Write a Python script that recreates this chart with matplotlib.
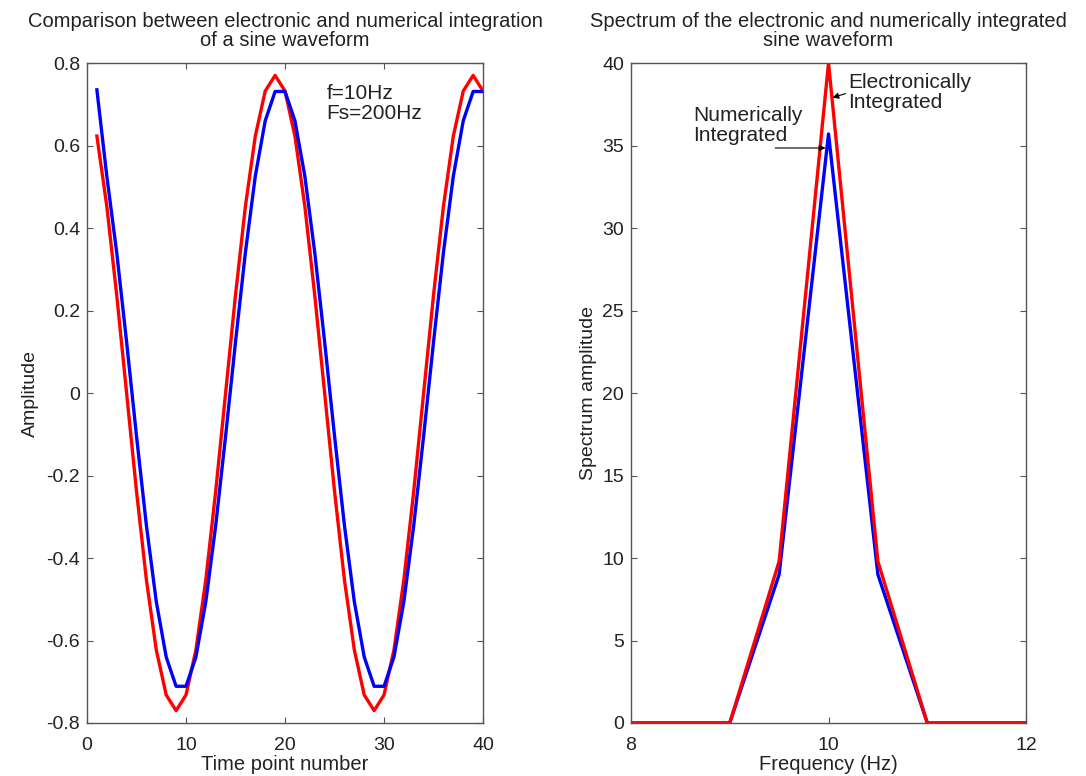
import matplotlib.pyplot as plt
import numpy as np

plt.rcParams['font.family'] = ['Liberation Sans', 'DejaVu Sans']
plt.rcParams['axes.unicode_minus'] = False

# Time domain (20 samples per period, f=10Hz, Fs=200Hz)
n = np.arange(1, 41)
electronic = [0.623, 0.453, 0.238, 0.0, -0.238, -0.453, -0.623, -0.732, -0.77, -0.732,
              -0.623, -0.453, -0.238, 0.0, 0.238, 0.453, 0.623, 0.732, 0.77, 0.732,
              0.623, 0.453, 0.238, 0.0, -0.238, -0.453, -0.623, -0.732, -0.77, -0.732,
              -0.623, -0.453, -0.238, 0.0, 0.238, 0.453, 0.623, 0.732, 0.77, 0.732]
numerical = [0.735, 0.526, 0.341, 0.124, -0.104, -0.321, -0.506, -0.640, -0.711, -0.711,
             -0.640, -0.506, -0.321, -0.104, 0.124, 0.341, 0.526, 0.660, 0.731, 0.731,
             0.660, 0.526, 0.341, 0.124, -0.104, -0.321, -0.506, -0.640, -0.711, -0.711,
             -0.640, -0.506, -0.321, -0.104, 0.124, 0.341, 0.526, 0.660, 0.731, 0.731]
amp_ticks = [-0.8, -0.6, -0.4, -0.2, 0, 0.2, 0.4, 0.6, 0.8]
amp_labels = ['-0.8', '-0.6', '-0.4', '-0.2', '0', '0.2', '0.4', '0.6', '0.8']

# Spectrum
freq = [8, 8.5, 9, 9.5, 10, 10.5, 11, 11.5, 12]
spec_electronic = [0, 0, 0, 9.8, 40, 9.8, 0, 0, 0]
spec_numerical = [0, 0, 0, 9.0, 35.7, 9.0, 0, 0, 0]

fig = plt.figure(figsize=(10.86, 7.76), dpi=100)
ax1 = fig.add_axes([0.0801, 0.0683, 0.3647, 0.8505])
ax2 = fig.add_axes([0.5810, 0.0683, 0.3638, 0.8505])

def style(ax):
    for s in ax.spines.values():
        s.set_color('#555555')
        s.set_linewidth(1.0)
    ax.tick_params(direction='in', top=True, right=True, length=4, width=0.8,
                   color='#555555', labelsize=14, pad=5, labelcolor='#222222')
    ax.tick_params(axis='x', pad=10)

ax1.plot(n, electronic, color='#ff0000', lw=2.4)
ax1.plot(n, numerical, color='#0000ff', lw=2.4)
ax1.set_xlim(0, 40)
ax1.set_ylim(-0.8, 0.8)
ax1.set_xticks([0, 10, 20, 30, 40])
ax1.set_yticks(amp_ticks)
ax1.set_yticklabels(amp_labels)
ax1.set_xlabel('Time point number', fontsize=14.5, labelpad=1, color='#222222')
ax1.set_ylabel('Amplitude', fontsize=14, labelpad=5, color='#222222')
ax1.set_title('Comparison between electronic and numerical integration\nof a sine waveform',
              fontsize=14.5, pad=12, linespacing=1.05, color='#222222')
ax1.text(24.2, 0.75, 'f=10Hz\nFs=200Hz', fontsize=15, va='top', ha='left',
         linespacing=1.1, color='#222222')
style(ax1)

ax2.plot(freq, spec_numerical, color='#0000ff', lw=2.4)
ax2.plot(freq, spec_electronic, color='#ff0000', lw=2.4)
ax2.set_xlim(8, 12)
ax2.set_ylim(0, 40)
ax2.set_xticks([8, 10, 12])
ax2.set_yticks(np.arange(0, 41, 5))
ax2.set_xlabel('Frequency (Hz)', fontsize=14.5, labelpad=1, color='#222222')
ax2.set_ylabel('Spectrum amplitude', fontsize=14, labelpad=4, color='#222222')
ax2.set_title('Spectrum of the electronic and numerically integrated\nsine waveform',
              fontsize=14.5, pad=12, linespacing=1.05, color='#222222')
ax2.annotate('Electronically\nIntegrated', xy=(10.04, 37.9), xytext=(10.2, 38.2),
             fontsize=15, va='center', ha='left', linespacing=1.1, color='#222222',
             arrowprops=dict(arrowstyle='-|>', color='black', lw=0.8,
                             mutation_scale=9, shrinkA=0, shrinkB=0,
                             relpos=(0, 0.5)))
ax2.text(8.63, 36.2, 'Numerically\nIntegrated', fontsize=15, va='center', ha='left',
         linespacing=1.1, color='#222222')
ax2.annotate('', xy=(9.97, 34.85), xytext=(9.46, 34.85),
             arrowprops=dict(arrowstyle='-|>', color='black', lw=0.8,
                             mutation_scale=9, shrinkA=0, shrinkB=0))
style(ax2)

fig.savefig('out.png', dpi=100)
